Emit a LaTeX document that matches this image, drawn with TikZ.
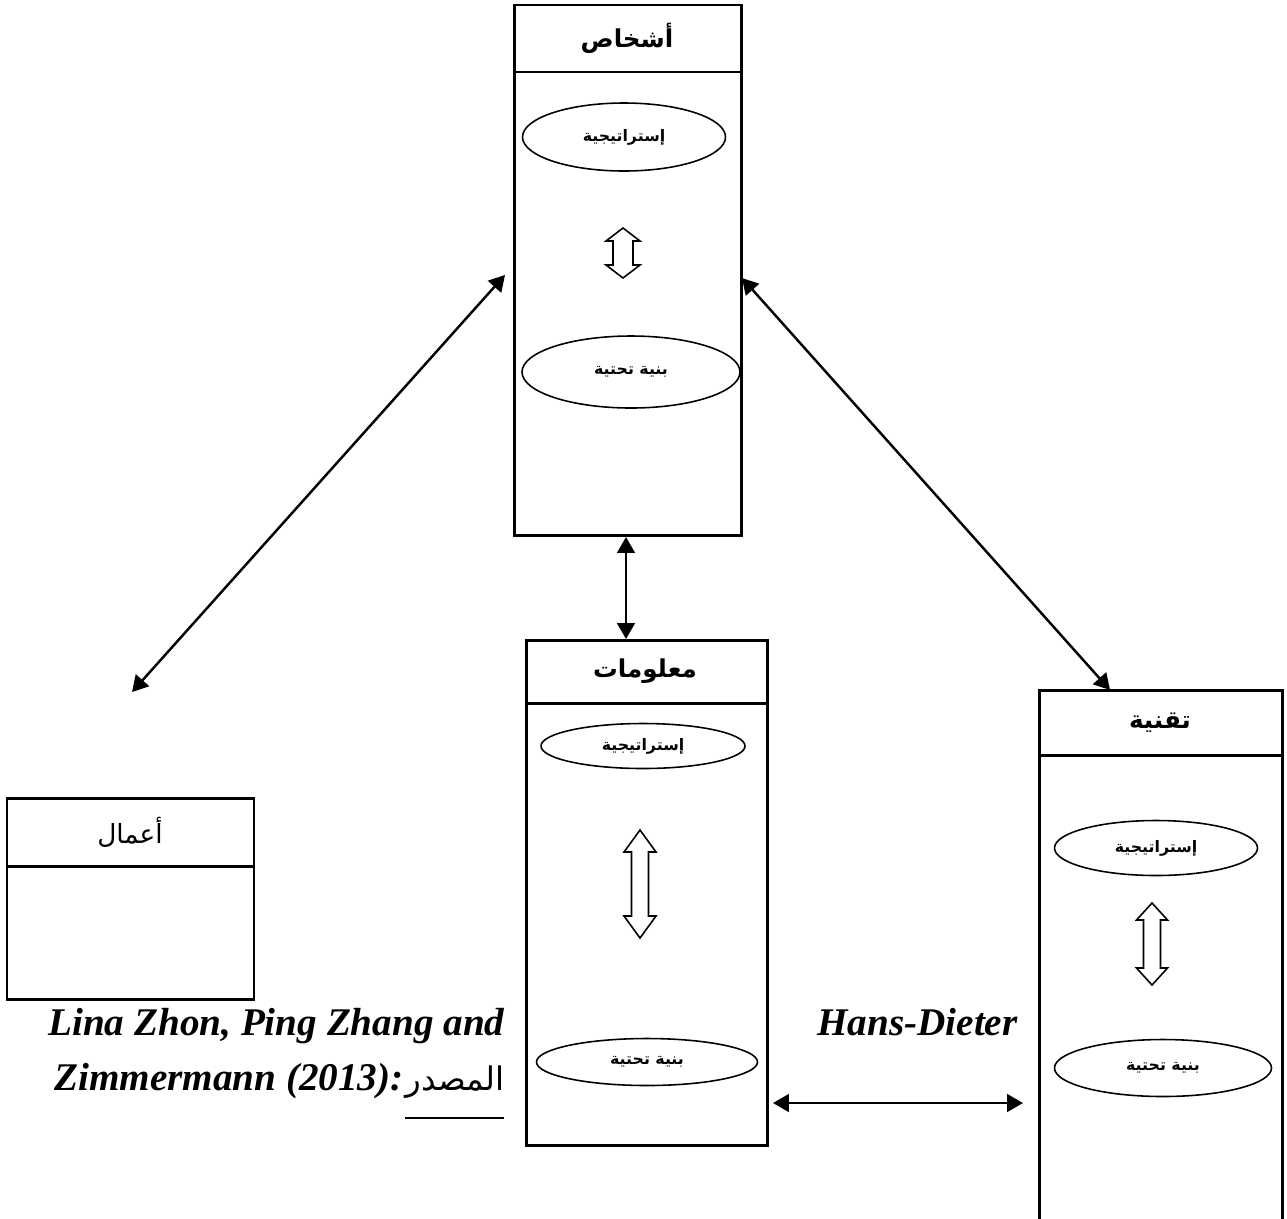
\documentclass[tikz,border=0pt]{standalone}
\usepackage{fontspec}
\usetikzlibrary{arrows.meta,shapes.geometric}
\TeXXeTstate=1
\newfontfamily\arabicfont[Script=Arabic]{DejaVu Sans}
\newfontfamily\srcfont{Liberation Serif}
\newcommand\blkarrow[6]{%
  \draw[blk] (#1,#2) -- (#1+#4,#2+#6) -- (#1+#5,#2+#6) -- (#1+#5,#3-#6) -- (#1+#4,#3-#6) -- (#1,#3)
   -- (#1-#4,#3-#6) -- (#1-#5,#3-#6) -- (#1-#5,#2+#6) -- (#1-#4,#2+#6) -- cycle;}
\begin{document}
\begin{tikzpicture}[x=0.02cm,y=-0.02cm,
  box/.style={draw, line width=1.7pt, inner sep=0pt, outer sep=0pt},
  oval/.style={draw, ellipse, line width=0.9pt, inner sep=0pt,
     font=\arabicfont\bfseries\fontsize{9}{11}\selectfont},
  ttl/.style={font=\arabicfont\bfseries\fontsize{14}{17}\selectfont, inner sep=0pt},
  link/.style={line width=1.4pt, {Triangle[length=9pt,width=10pt]}-{Triangle[length=9pt,width=10pt]}},
  blk/.style={draw, line width=0.9pt, fill=white},
  hdr/.style={line width=1.7pt},
  src/.style={font=\srcfont\bfseries\itshape\fontsize{22.3}{26}\selectfont, inner sep=0pt}]
\fill[white] (0,0) rectangle (1287,1218);
\useasboundingbox (0,0) rectangle (1287,1218);
\clip (0,0) rectangle (1287,1218);

% boxes
\node[box, minimum width=227*0.02cm, minimum height=530*0.02cm] (A) at (627.5,270) {};
\node[box, minimum width=241*0.02cm, minimum height=505*0.02cm] (M) at (646.5,892.5) {};
\node[box, minimum width=243*0.02cm, minimum height=560*0.02cm] (T) at (1160.5,970) {};
\node[box, minimum width=247*0.02cm, minimum height=201*0.02cm] (W) at (130.5,898.5) {};

% header lines
\draw[hdr] (A.west |- 0,72) -- (A.east |- 0,72);
\draw[hdr] (M.west |- 0,703) -- (M.east |- 0,703);
\draw[hdr] (T.west |- 0,755) -- (T.east |- 0,755);
\draw[hdr] (W.west |- 0,866) -- (W.east |- 0,866);

% titles
\node[ttl] (tA) at (627,38.5) {\beginR أشخاص\endR};
\node[ttl] (tM) at (645,671.5) {\beginR معلومات\endR};
\node[ttl] (tT) at (1160,722.5) {\beginR تقنية\endR};
\node[ttl, font=\arabicfont\fontsize{15}{18}\selectfont] (tW) at (130,832) {\beginR أعمال\endR};

% ellipses
\node[oval, minimum width=203*0.02cm, minimum height=68*0.02cm] (A1) at (624,137) {\beginR إستراتيجية\endR};
\node[oval, minimum width=218*0.02cm, minimum height=72*0.02cm] (A2) at (631,372) {\beginR بنية تحتية\endR};
\node[oval, minimum width=204*0.02cm, minimum height=45*0.02cm] (M1) at (643,746) {\beginR إستراتيجية\endR};
\node[oval, minimum width=221*0.02cm, minimum height=47*0.02cm] (M2) at (647,1062) {\beginR بنية تحتية\endR};
\node[oval, minimum width=203*0.02cm, minimum height=55*0.02cm] (T1) at (1156,848) {\beginR إستراتيجية\endR};
\node[oval, minimum width=217*0.02cm, minimum height=57*0.02cm] (T2) at (1163,1068) {\beginR بنية تحتية\endR};

% hollow double arrows
\blkarrow{623}{228}{278}{17}{10}{13}
\blkarrow{640}{830}{938}{16}{8.5}{22}
\blkarrow{1152}{903}{985}{15.5}{8.5}{17}

% connector end points
\coordinate (aL) at (505,275);
\coordinate (wfree) at (132,692);
\coordinate (aR) at (742,278);
\coordinate (tN) at (1110,690);
\coordinate (aS) at (626,537);
\coordinate (mN) at (626,639);
\coordinate (hL) at (773,1103);
\coordinate (hR) at (1023,1103);

\draw[link] (aL) -- (wfree);
\draw[link] (aR) -- (tN);
\draw[link] (aS) -- (mN);
\draw[link] (hL) -- (hR);

% source text
\node[src, anchor=base west] (s1) at (48,1035) {Lina Zhon, Ping Zhang and};
\node[src, anchor=base west] (s2) at (817,1035) {Hans-Dieter};
\node[src, anchor=base east] (s3) at (404,1090) {Zimmermann (2013):};
\node[font=\arabicfont\fontsize{18.5}{22}\selectfont, inner sep=0pt, anchor=base west] (s4) at (405,1090) {\beginR المصدر\endR};
\draw[line width=1.2pt] (s4.west |- 0,1118) -- (s4.east |- 0,1118);
\end{tikzpicture}
\end{document}
